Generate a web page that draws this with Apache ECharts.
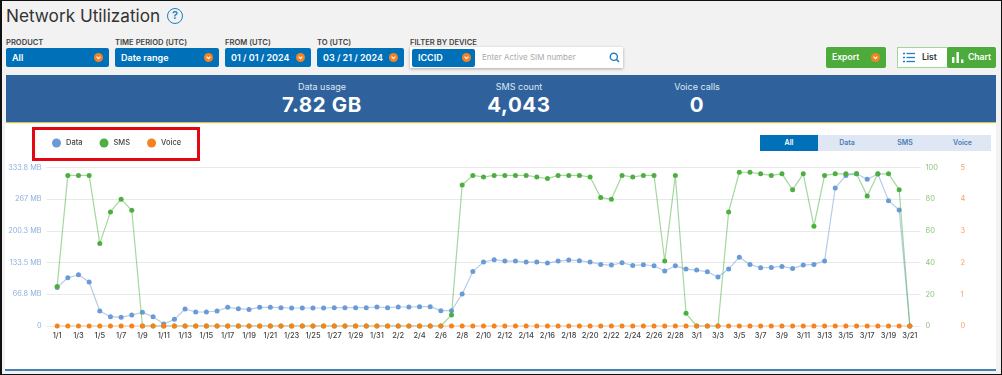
<!DOCTYPE html>
<html>
<head>
<meta charset="utf-8">
<script src="https://cdn.jsdelivr.net/npm/echarts@6/dist/echarts.min.js"></script>
<style>
  html, body { margin: 0; padding: 0; }
  body { width: 1002px; height: 375px; overflow: hidden; background: #f2f2f2; font-family: Inter, "Open Sans", sans-serif; position: relative; }
  .abs { position: absolute; white-space: nowrap; box-sizing: border-box; }
  .frame { left: 0; top: 0; width: 1002px; height: 375px; border: 1px solid #111; border-left-width: 2px; z-index: 9; pointer-events: none; }
  .title { left: 6px; top: 6px; font-size: 17.2px; line-height: 20px; color: #333; }
  .help { left: 167px; top: 8px; width: 16px; height: 16px; border: 1.5px solid #1f7fc4; border-radius: 50%; color: #1f7fc4; font-size: 11px; line-height: 13px; text-align: center; font-weight: 600; }
  .lbl { top: 38px; font-size: 7.6px; line-height: 9px; font-weight: 600; color: #444; }
  .sel { top: 48px; height: 19px; background: #0071b9; border-radius: 2px; color: #fff; font-size: 9px; line-height: 19px; font-weight: 600; padding-left: 6px; }
  .dot { width: 9px; height: 9px; top: 53px; }
  .search { left: 410px; top: 47px; width: 213px; height: 21px; background: #fff; box-shadow: 0 1px 3px rgba(0,0,0,.3); }
  .ph { left: 482px; top: 52px; font-size: 8px; line-height: 11px; color: #aaa; }
  .btn { top: 47px; height: 21px; background: #4dab3c; color: #fff; font-size: 8.6px; line-height: 20px; font-weight: 600; border-radius: 2px; }
  .banner { left: 6px; top: 75px; width: 990px; height: 48px; background: #2f629c; border-bottom: 1px solid #cfc93a; }
  .k { top: 81px; width: 120px; text-align: center; color: #dfe8f2; font-size: 9px; line-height: 11px; }
  .v { top: 94px; width: 140px; text-align: center; color: #fff; font-size: 20.5px; line-height: 22px; font-weight: 700; letter-spacing: .6px; }
  .panel { left: 5px; top: 124px; width: 991px; height: 247px; background: #fff; border-bottom: 2px solid #4a7fae; }
  #chart { position: absolute; left: 5px; top: 124px; width: 991px; height: 245px; }
  .redbox { left: 32px; top: 127px; width: 168px; height: 34px; border: 3px solid #e30613; }
  .seg { top: 135px; height: 16px; background: #dfe6f4; color: #4a7fb5; font-size: 7px; line-height: 16px; text-align: center; font-weight: 600; }
</style>
</head>
<body>
<div class="abs title">Network Utilization</div>
<div class="abs help">?</div>

<div class="abs lbl" style="left:6px">PRODUCT</div>
<div class="abs lbl" style="left:115px">TIME PERIOD (UTC)</div>
<div class="abs lbl" style="left:225px">FROM (UTC)</div>
<div class="abs lbl" style="left:317px">TO (UTC)</div>
<div class="abs lbl" style="left:410px">FILTER BY DEVICE</div>

<div class="abs sel" style="left:6px;width:103px">All</div>
<div class="abs sel" style="left:115px;width:104px">Date range</div>
<div class="abs sel" style="left:225px;width:86px">01 / 01 / 2024</div>
<div class="abs sel" style="left:317px;width:87px">03 / 21 / 2024</div>
<div class="abs search"></div>
<div class="abs sel" style="left:412px;width:63px;top:49px;height:18px;line-height:18px">ICCID</div>
<svg class="abs dot" style="left:94px" viewBox="0 0 9 9"><circle cx="4.5" cy="4.5" r="4.5" fill="#f58220"/><path d="M2.6 3.6 L4.5 5.6 L6.4 3.6" fill="none" stroke="#fff" stroke-width="1.2"/></svg>
<svg class="abs dot" style="left:204px" viewBox="0 0 9 9"><circle cx="4.5" cy="4.5" r="4.5" fill="#f58220"/><path d="M2.6 3.6 L4.5 5.6 L6.4 3.6" fill="none" stroke="#fff" stroke-width="1.2"/></svg>
<svg class="abs dot" style="left:296px" viewBox="0 0 9 9"><circle cx="4.5" cy="4.5" r="4.5" fill="#f58220"/><path d="M2.6 3.6 L4.5 5.6 L6.4 3.6" fill="none" stroke="#fff" stroke-width="1.2"/></svg>
<svg class="abs dot" style="left:389px" viewBox="0 0 9 9"><circle cx="4.5" cy="4.5" r="4.5" fill="#f58220"/><path d="M2.6 3.6 L4.5 5.6 L6.4 3.6" fill="none" stroke="#fff" stroke-width="1.2"/></svg>
<svg class="abs dot" style="left:462px" viewBox="0 0 9 9"><circle cx="4.5" cy="4.5" r="4.5" fill="#f58220"/><path d="M2.6 3.6 L4.5 5.6 L6.4 3.6" fill="none" stroke="#fff" stroke-width="1.2"/></svg>
<div class="abs ph">Enter Active SIM number</div>
<svg class="abs" style="left:609px;top:52px" width="11" height="11" viewBox="0 0 11 11"><circle cx="4.8" cy="4.8" r="3.6" fill="none" stroke="#1f7fc4" stroke-width="1.4"/><line x1="7.4" y1="7.4" x2="10" y2="10" stroke="#1f7fc4" stroke-width="1.6"/></svg>

<div class="abs btn" style="left:826px;width:60px;padding-left:6px">Export</div>
<svg class="abs dot" style="left:871px" viewBox="0 0 9 9"><circle cx="4.5" cy="4.5" r="4.5" fill="#f58220"/><path d="M2.6 3.6 L4.5 5.6 L6.4 3.6" fill="none" stroke="#fff" stroke-width="1.2"/></svg>
<div class="abs" style="left:897px;top:47px;width:51px;height:21px;background:#fff;border:1px solid #a5d59b;font-size:8.6px;line-height:19px;font-weight:600;color:#333;padding-left:24px">List</div>
<svg class="abs" style="left:903px;top:52px" width="12" height="11" viewBox="0 0 12 11"><g stroke="#1f7fc4" stroke-width="1.3"><line x1="0" y1="1.5" x2="2" y2="1.5"/><line x1="3.5" y1="1.5" x2="12" y2="1.5"/><line x1="0" y1="5.5" x2="2" y2="5.5"/><line x1="3.5" y1="5.5" x2="12" y2="5.5"/><line x1="0" y1="9.5" x2="2" y2="9.5"/><line x1="3.5" y1="9.5" x2="12" y2="9.5"/></g></svg>
<div class="abs btn" style="left:947px;width:49px;padding-left:21px">Chart</div>
<svg class="abs" style="left:952px;top:52px" width="12" height="11" viewBox="0 0 12 11"><g fill="#fff"><rect x="0" y="5" width="2.4" height="6"/><rect x="4.5" y="0" width="2.4" height="11"/><rect x="9" y="7.5" width="2.4" height="3.5"/></g></svg>

<div class="abs banner"></div>
<div class="abs k" style="left:262px">Data usage</div>
<div class="abs v" style="left:252px">7.82 GB</div>
<div class="abs k" style="left:459px">SMS count</div>
<div class="abs v" style="left:449px">4,043</div>
<div class="abs k" style="left:637px">Voice calls</div>
<div class="abs v" style="left:627px">0</div>

<div class="abs panel"></div>
<div id="chart"></div>
<div class="abs redbox"></div>

<div class="abs seg" style="left:760px;width:58px;background:#0071b9;color:#fff">All</div>
<div class="abs seg" style="left:818px;width:58px">Data</div>
<div class="abs seg" style="left:876px;width:58px">SMS</div>
<div class="abs seg" style="left:934px;width:57px">Voice</div>
<div class="abs frame"></div>

<script>
const dates = [
  "1/1","1/2","1/3","1/4","1/5","1/6","1/7","1/8","1/9","1/10","1/11","1/12","1/13","1/14","1/15","1/16",
  "1/17","1/18","1/19","1/20","1/21","1/22","1/23","1/24","1/25","1/26","1/27","1/28","1/29","1/30","1/31",
  "2/1","2/2","2/3","2/4","2/5","2/6","2/7","2/8","2/9","2/10","2/11","2/12","2/13","2/14","2/15","2/16",
  "2/17","2/18","2/19","2/20","2/21","2/22","2/23","2/24","2/25","2/26","2/27","2/28","2/29",
  "3/1","3/2","3/3","3/4","3/5","3/6","3/7","3/8","3/9","3/10","3/11","3/12","3/13","3/14","3/15","3/16",
  "3/17","3/18","3/19","3/20","3/21"
];
// MB
const dataUsage = [
  81.3,101.7,108,92.6,31.6,19.6,18.2,23.1,28.8,19.6,4.2,14,35.8,29.5,29.5,31.6,
  39.3,36.5,35,39.3,39.3,38.6,37.9,37.9,37.9,37.9,38.6,38.6,38.6,38.6,40,
  38.6,40,40,40.7,40.7,32.3,32.3,67.3,115,134.6,139.6,136.8,136.8,134.6,134.6,132.5,
  136.8,138.9,137.5,134.6,129.7,128.3,133.2,127.6,129,126.9,115.7,126.9,119.9,
  117.8,114.3,103.2,119.9,145,129.7,122.7,123.4,125.5,121.3,128.3,129.7,136.8,290.6,317.2,320.7,
  308.8,320,264,244.4,0
];
const smsCount = [
  25,95,95,95,52,72,80,73,0,0,0,0,0,0,0,0,
  0,0,0,0,0,0,0,0,0,0,0,0,0,0,0,
  0,0,0,0,0,0,7,89,95,94,95,95,95,95,94,93,
  95,95,95,94,81,80,95,94,95,95,41,95,8,
  0,0,0,72,97,97,96,95,96,86,96,63,95,96,96,96,
  82,96,96,86,0
];
const voiceCalls = [
  0,0,0,0,0,0,0,0,0,0,0,0,0,0,0,0,
  0,0,0,0,0,0,0,0,0,0,0,0,0,0,0,
  0,0,0,0,0,0,0,0,0,0,0,0,0,0,0,0,
  0,0,0,0,0,0,0,0,0,0,0,0,0,
  0,0,0,0,0,0,0,0,0,0,0,0,0,0,0,0,
  0,0,0,0,0
];
const dataTicks = ["0","66.8 MB","133.5 MB","200.3 MB","267 MB","333.8 MB"];
const dataMax = 333.8;

const FONT = "Inter, 'Open Sans', sans-serif";

// 坐标轴两端各留一格空白
const pad = (arr) => [null, ...arr, null];

function makeSeries(name, color, yAxisIndex, values, z) {
  return {
    name,
    type: "line",
    yAxisIndex,
    z,
    data: pad(values),
    symbol: "circle",
    symbolSize: 5,
    showSymbol: true,
    showAllSymbol: true,
    connectNulls: false,
    lineStyle: { width: 1.2, color, opacity: 0.5 },
    itemStyle: { color },
    animation: false,
  };
}

const chart = echarts.init(document.getElementById("chart"));
chart.setOption({
  animation: false,
  textStyle: { fontFamily: FONT },
  grid: { left: 41.5, right: 75.5, top: 43.5, height: 158.5 },
  legend: {
    left: 47,
    top: 14.5,
    padding: 0,
    itemWidth: 9,
    itemHeight: 9,
    itemGap: 17,
    icon: "circle",
    data: ["Data", "SMS", "Voice"],
    textStyle: { fontSize: 7.5, color: "#444", fontFamily: FONT, fontWeight: 500 },
  },
  xAxis: {
    type: "category",
    boundaryGap: false,
    data: ["", ...dates, ""],
    axisLine: { show: false },
    axisTick: { show: false },
    axisLabel: {
      interval: (i) => i % 2 === 1,
      fontSize: 7.5,
      color: "#444",
      fontWeight: 500,
      margin: 6,
      hideOverlap: false,
    },
  },
  yAxis: [
    {
      type: "value",
      min: 0,
      max: dataMax,
      interval: dataMax / 5,
      axisLine: { show: false },
      axisTick: { show: false },
      splitLine: { lineStyle: { color: "#e9e9e9", width: 1 } },
      axisLabel: {
        fontSize: 7.3,
        color: "#8fb0dd",
        margin: 5,
        formatter: (v) => dataTicks[Math.round((v / dataMax) * 5)],
      },
    },
    {
      type: "value",
      position: "right",
      min: 0,
      max: 100,
      interval: 20,
      axisLine: { show: false },
      axisTick: { show: false },
      splitLine: { show: false },
      axisLabel: { fontSize: 7.5, color: "#8cc67e", margin: 5 },
    },
    {
      type: "value",
      position: "right",
      offset: 35,
      min: 0,
      max: 5,
      interval: 1,
      axisLine: { show: false },
      axisTick: { show: false },
      splitLine: { show: false },
      axisLabel: { fontSize: 7.5, color: "#f7a26b", margin: 5 },
    },
  ],
  series: [
    makeSeries("Data", "#6a9bd8", 0, dataUsage, 2),
    makeSeries("SMS", "#4caf3f", 1, smsCount, 3),
    makeSeries("Voice", "#f58220", 2, voiceCalls, 4),
  ],
});
</script>
</body>
</html>
